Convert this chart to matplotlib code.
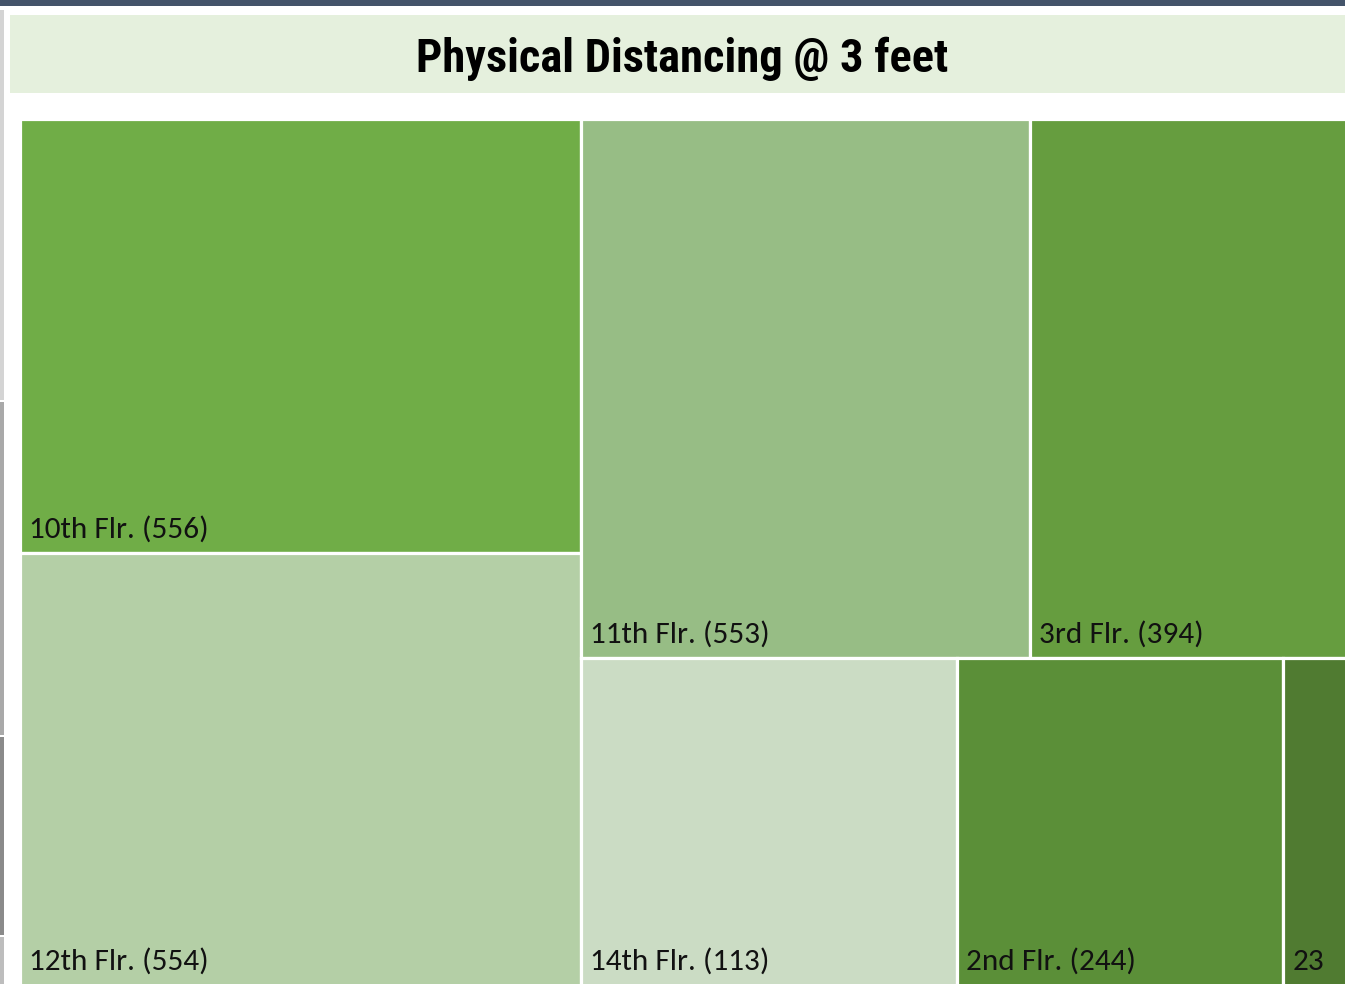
import matplotlib
matplotlib.use("Agg")
import matplotlib.pyplot as plt
from matplotlib.patches import Rectangle
from matplotlib import font_manager

# ---- data ----
floors = ["10th Flr.", "12th Flr.", "11th Flr.", "3rd Flr.", "14th Flr.", "2nd Flr.", "23"]
values = [556, 554, 553, 394, 113, 244, None]
# relative tile areas as they appear in the picture
sizes = [556, 554, 553, 394, 281, 244, 50]
colors = ["#70ad47", "#b4cfa6", "#97bd85", "#669d3f", "#cbdcc4", "#5b8f38", "#507b31"]
# grouping of tiles: columns -> rows -> tiles (indices)
groups = [[[0], [1]], [[2, 3], [4, 5, 6]]]

title = "Physical Distancing @ 3 feet"


def pick(prefs, fallback="DejaVu Sans"):
    names = {f.name for f in font_manager.fontManager.ttflist}
    for p in prefs:
        if p in names:
            return p
    return fallback


title_font = pick(["Liberation Sans Narrow", "Arial Narrow", "Roboto Condensed",
                   "Archivo Narrow", "Barlow Semi Condensed"])
label_font = pick(["Carlito", "Calibri", "Lato"])

W_px, H_px = 1345, 984
fig = plt.figure(figsize=(W_px / 100, H_px / 100), dpi=100)
fig.patch.set_facecolor("white")

# top dark band
fig.add_artist(Rectangle((0, 1 - 6 / H_px), 1, 6 / H_px, transform=fig.transFigure,
                         facecolor="#44546a", edgecolor="none"))
# left gray strip segments
for y0, y1, c in [(10, 400, "#d4d4d4"), (402, 735, "#a9a9a9"), (737, 935, "#8a8a8a"), (937, 984, "#bdbdbd")]:
    fig.add_artist(Rectangle((0, 1 - y1 / H_px), 4 / W_px, (y1 - y0) / H_px,
                             transform=fig.transFigure, facecolor=c, edgecolor="none"))

# title box
fig.add_artist(Rectangle((10 / W_px, 1 - 93 / H_px), 1, (93 - 15) / H_px,
                         transform=fig.transFigure, facecolor="#e5f0dd", edgecolor="none"))
fig.text(682 / W_px, 1 - 59 / H_px, title, ha="center", va="center",
         fontsize=33.5, fontweight="bold", family=[title_font, "DejaVu Sans"], color="black")

# treemap axes: full treemap spans 20..1350 px horizontally, 119..986 px vertically
full_w_px, full_h_px = 1330, 867
ax = fig.add_axes([20 / W_px, 0, 1 - 20 / W_px, (H_px - 119) / H_px])
H = 1.0
total = sum(sizes)
W = full_w_px / full_h_px * H
ax.set_xlim(0, W * (W_px - 20) / full_w_px)
ax.set_ylim(H - H * (H_px - 119) / full_h_px, H)
ax.axis("off")

x = 0.0
for col in groups:
    col_sum = sum(sizes[i] for row in col for i in row)
    col_w = col_sum / total * W
    y_top = H
    for row in col:
        row_sum = sum(sizes[i] for i in row)
        row_h = row_sum / col_sum * H
        xx = x
        for i in row:
            w = sizes[i] / row_sum * col_w
            ax.add_patch(Rectangle((xx, y_top - row_h), w, row_h, facecolor=colors[i],
                                   edgecolor="white", linewidth=2.3))
            lab = floors[i] if values[i] is None else f"{floors[i]} ({values[i]})"
            ax.annotate(lab, (xx, y_top - row_h), xytext=(6.5, 11.5), textcoords="offset points",
                        ha="left", va="baseline", fontsize=22.5, family=[label_font, "DejaVu Sans"],
                        color="#111111", annotation_clip=False, clip_on=True)
            xx += w
        y_top -= row_h
    x += col_w

fig.savefig("out.png", dpi=100)
